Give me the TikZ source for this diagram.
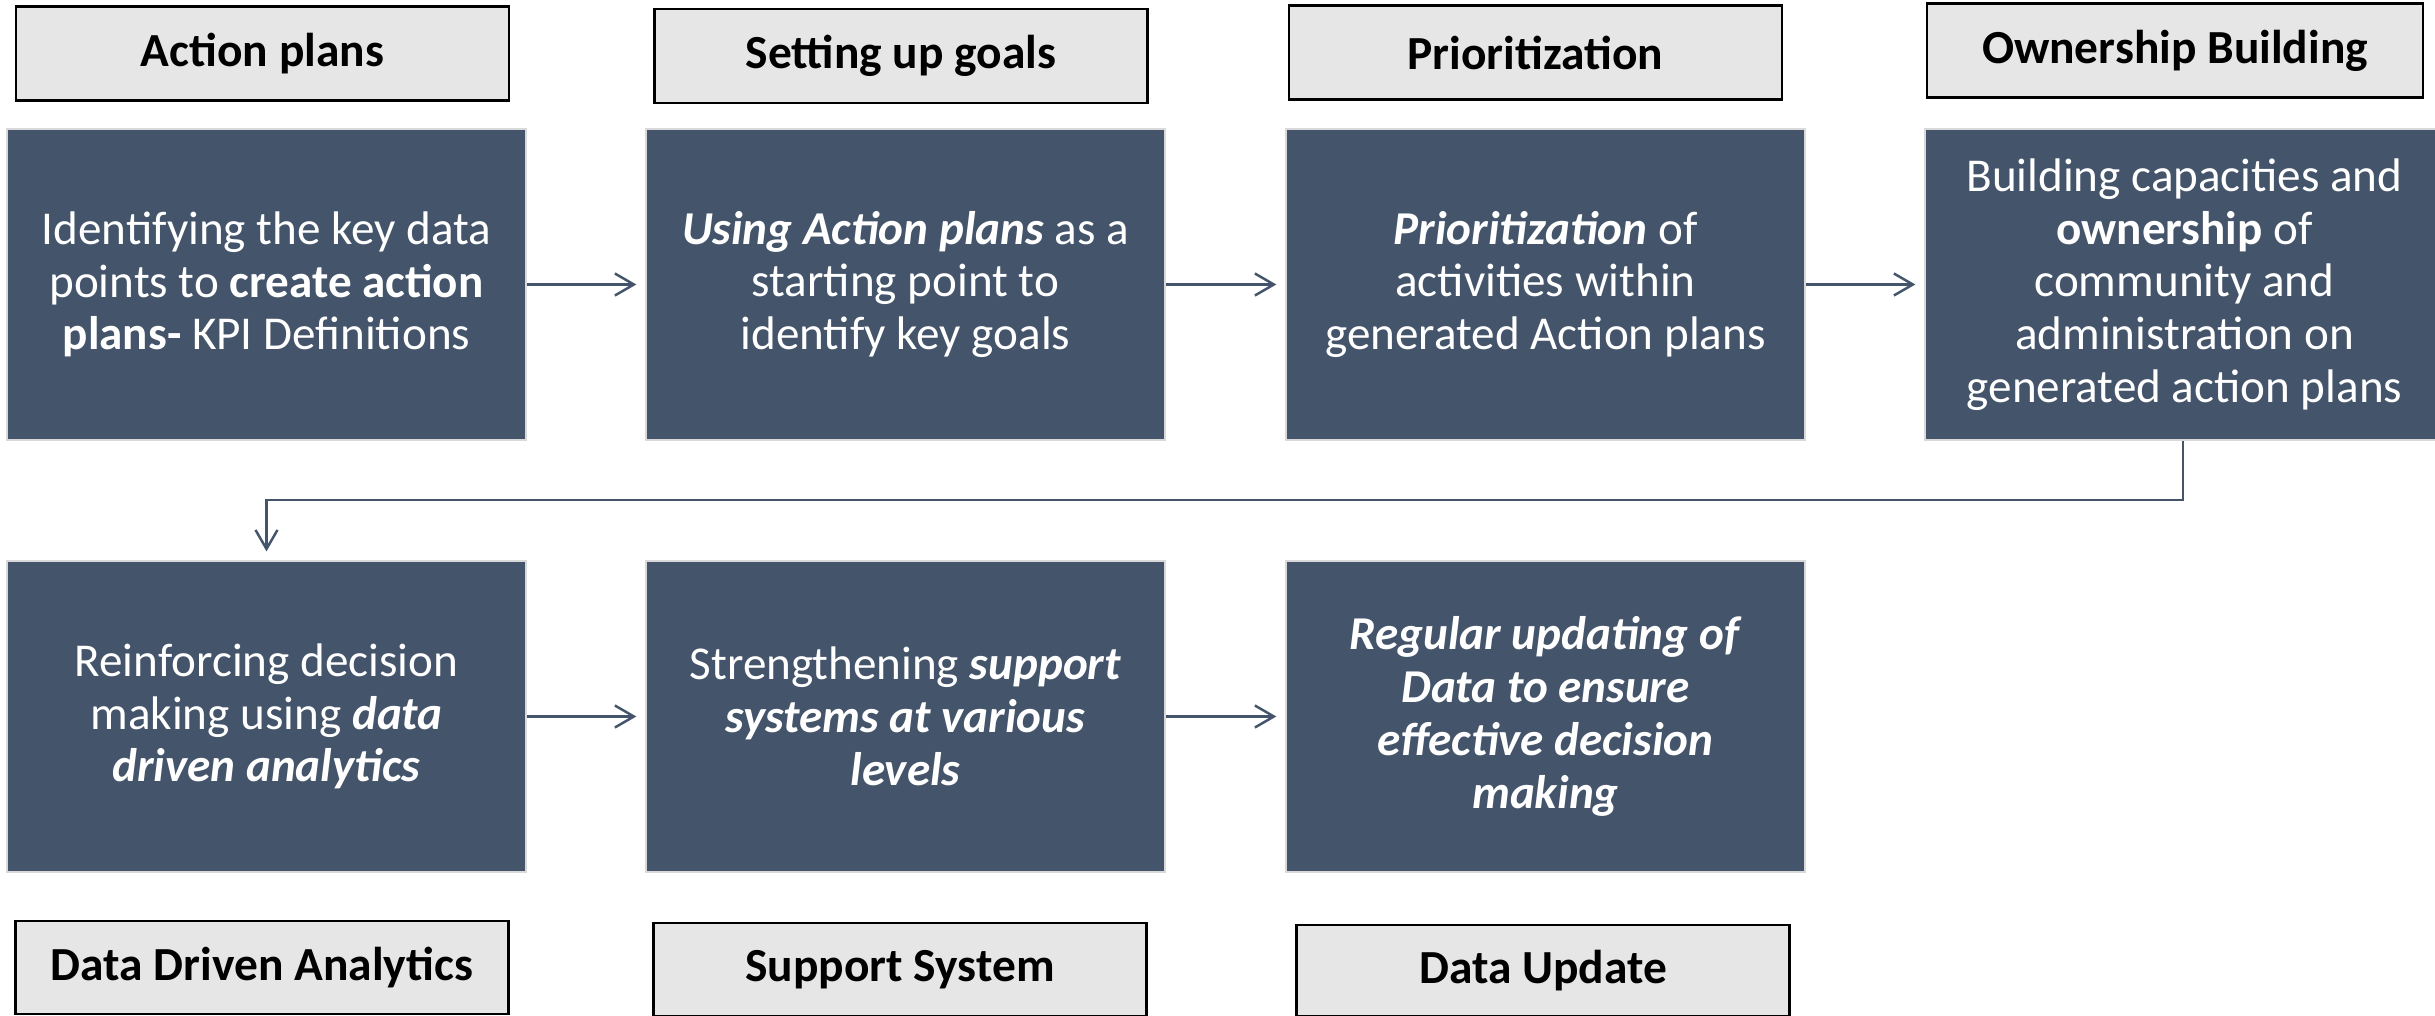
\documentclass[tikz,border=0pt]{standalone}
\usepackage{fontspec}
\setmainfont{Carlito}
\usetikzlibrary{arrows.meta}
\definecolor{boxblue}{HTML}{44546A}
\definecolor{boxedge}{HTML}{D9D9D9}
\definecolor{labelgray}{HTML}{E7E6E6}
\newcommand{\bi}[1]{\textbf{\textit{#1}}}
\begin{document}
\begin{tikzpicture}[x=0.01cm,y=-0.01cm,
  mainbox/.style={draw=boxedge, line width=0.6pt, fill=boxblue, text=white,
    minimum width=5.19cm, minimum height=3.11cm, inner sep=0pt, align=center,
    font=\fontsize{13.4}{15}\selectfont},
  labelbox/.style={draw=black, line width=0.7pt, fill=labelgray,
    minimum width=4.93cm, minimum height=0.94cm, inner sep=0pt, align=center,
    font=\fontsize{13.5}{15}\selectfont\bfseries},
  flow/.style={draw=boxblue, line width=0.7pt, shorten >=2.4pt,
    -{Straight Barb[length=0.19cm,width=0.22cm,line width=0.7pt]}}
]
\clip (0,0) rectangle (2435,1016);
\fill[white] (0,0) rectangle (2435,1016);

% top labels
\node[labelbox] (l1) at (262.5,53.5) {Action plans};
\node[labelbox] (l2) at (901,56) {Setting up goals};
\node[labelbox] (l3) at (1535.5,52.5) {Prioritization};
\node[labelbox, minimum width=4.96cm] (l4) at (2175,50.5) {Ownership Building};

% row 1
\node[mainbox] (b1) at (266.5,284.5) {Identifying the key data\\ points to \textbf{create action}\\ \textbf{plans-} KPI Definitions};
\node[mainbox] (b2) at (905.5,284.5) {\bi{Using Action plans} as a\\ starting point to\\ identify key goals};
\node[mainbox] (b3) at (1545.5,284.5) {\bi{Prioritization} of\\ activities within\\ generated Action plans};
\node[mainbox] (b4) at (2184.5,284.5) {Building capacities and\\ \textbf{ownership} of\\ community and\\ administration on\\ generated action plans};

% row 2
\node[mainbox] (b5) at (266.5,716.5) {Reinforcing decision\\ making using \bi{data}\\ \bi{driven analytics}};
\node[mainbox] (b6) at (905.5,716.5) {Strengthening \bi{support}\\ \bi{systems at various}\\ \bi{levels}};
\node[mainbox] (b7) at (1545.5,716.5) {\bi{Regular updating of}\\ \bi{Data to ensure}\\ \bi{effective decision}\\ \bi{making}};

% bottom labels
\node[labelbox, minimum height=0.93cm] (l5) at (262,967.5) {Data Driven Analytics};
\node[labelbox, minimum height=0.93cm] (l6) at (900,969.5) {Support System};
\node[labelbox, minimum height=0.91cm] (l7) at (1543,970.5) {Data Update};

% connectors
\draw[flow] (b1) -- (b2);
\draw[flow] (b2) -- (b3);
\draw[flow] (b3) -- (b4);
\draw[flow] (b5) -- (b6);
\draw[flow] (b6) -- (b7);
\coordinate (turn) at (2183,500);
\draw[flow] (b4.south -| turn) -- (turn) -| (b5.north);
\end{tikzpicture}
\end{document}
